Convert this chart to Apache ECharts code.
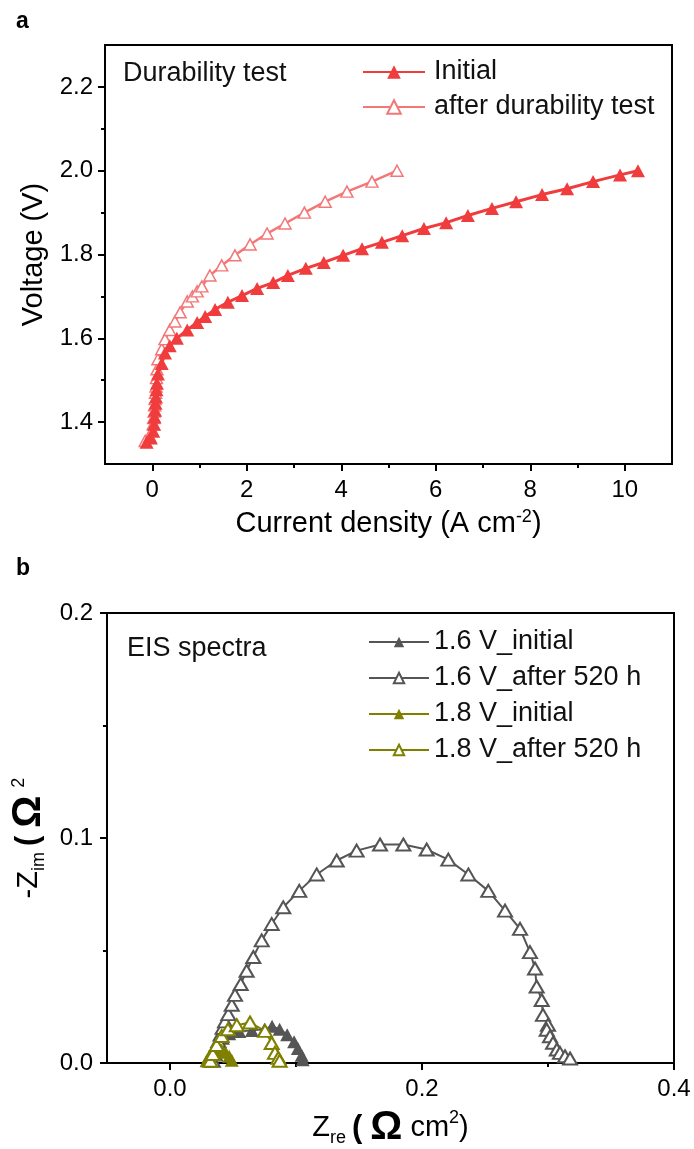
<!DOCTYPE html>
<html>
<head>
<meta charset="utf-8">
<script src="https://cdn.jsdelivr.net/npm/echarts@6/dist/echarts.min.js"></script>
<style>
html,body{margin:0;padding:0;background:#fff;}
#chart{width:694px;height:1149px;}
</style>
</head>
<body>
<div id="chart"></div>
<script>
// ---------- Panel a data ----------
const initialCurrent = [-0.12,-0.03,0.02,0.04,0.05,0.06,0.07,0.08,0.09,0.10,0.12,0.20,0.27,0.37,0.52,0.74,0.95,1.12,1.33,1.60,1.90,2.22,2.56,2.87,3.25,3.63,4.04,4.44,4.86,5.29,5.75,6.22,6.68,7.19,7.70,8.25,8.78,9.33,9.90,10.28];
const initialVoltage = [1.352,1.362,1.378,1.395,1.412,1.428,1.445,1.46,1.477,1.493,1.515,1.54,1.565,1.582,1.60,1.62,1.638,1.652,1.669,1.686,1.702,1.719,1.733,1.750,1.767,1.781,1.798,1.814,1.829,1.845,1.862,1.876,1.893,1.910,1.926,1.943,1.957,1.974,1.990,2.000];
const afterCurrent = [-0.15,-0.05,0.00,0.02,0.03,0.04,0.05,0.06,0.07,0.08,0.09,0.10,0.12,0.20,0.27,0.37,0.48,0.59,0.74,0.85,0.95,1.05,1.22,1.47,1.75,2.07,2.43,2.81,3.22,3.66,4.12,4.65,5.18];
const afterVoltage = [1.355,1.365,1.38,1.395,1.41,1.425,1.44,1.455,1.47,1.485,1.505,1.526,1.55,1.574,1.598,1.62,1.64,1.662,1.688,1.70,1.712,1.724,1.75,1.774,1.798,1.824,1.85,1.874,1.90,1.926,1.95,1.974,2.00];
const aXTicks = [0,2,4,6,8,10];
const aXMinor = [1,3,5,7,9];
const aYTicks = [1.4,1.6,1.8,2.0,2.2];
const aYMinor = [1.5,1.7,1.9,2.1];
const aSeriesNames = ['Initial','after durability test'];

// ---------- Panel b data ----------
const v16InitRe = [0.033,0.035,0.038,0.042,0.047,0.055,0.065,0.075,0.081,0.087,0.093,0.0985,0.1015,0.1045,0.1053];
const v16InitIm = [0.001,0.004,0.008,0.011,0.013,0.014,0.0145,0.015,0.0163,0.015,0.0126,0.0095,0.0065,0.0035,0.0015];
const v16AfterRe = [0.034,0.0357,0.037,0.0384,0.0402,0.0418,0.0437,0.0463,0.049,0.0516,0.0561,0.0608,0.0661,0.0728,0.0807,0.0899,0.1026,0.1164,0.1323,0.1481,0.1667,0.1852,0.2037,0.2209,0.2368,0.2526,0.2659,0.2778,0.2857,0.2897,0.291,0.295,0.296,0.300,0.299,0.3016,0.304,0.307,0.3095,0.3135,0.3175];
const v16AfterIm = [0.001,0.0038,0.0067,0.0097,0.0126,0.0156,0.0185,0.0217,0.0259,0.0303,0.0351,0.041,0.0471,0.0545,0.0618,0.0692,0.0765,0.0838,0.090,0.0944,0.0971,0.0971,0.0949,0.0904,0.0838,0.0765,0.0677,0.0596,0.0493,0.042,0.034,0.028,0.0214,0.017,0.0148,0.0119,0.009,0.006,0.0045,0.003,0.002];
const v18InitRe = [0.029,0.031,0.033,0.035,0.038,0.041,0.044,0.047,0.049];
const v18InitIm = [0.001,0.003,0.0045,0.0055,0.006,0.0058,0.0048,0.003,0.0012];
const v18AfterRe = [0.032,0.034,0.037,0.041,0.046,0.053,0.0635,0.0754,0.0807,0.0833,0.086,0.087];
const v18AfterIm = [0.001,0.004,0.008,0.012,0.015,0.0168,0.018,0.0143,0.0089,0.0045,0.0023,0.001];
const bXTicks = [0,0.2,0.4];
const bXMinor = [0.1,0.3];
const bYTicks = [0,0.1,0.2];
const bYMinor = [0.05,0.15];
const bSeriesNames = ['1.6 V_initial','1.6 V_after 520 h','1.8 V_initial','1.8 V_after 520 h'];

const zip = (a, b) => a.map((v, i) => [v, b[i]]);
const FONT = '"Liberation Sans", Arial, sans-serif';
const RED = '#f03c3c';
const PINK = '#f47777';
const GREY = '#555555';
const OLIVE = '#7f7f00';

function fmt(v, d) { return v.toFixed(d); }

function mainAxis(opts) {
  return Object.assign({
    type: 'value',
    axisLine: { show: true, onZero: false, lineStyle: { color: '#000', width: 2 } },
    splitLine: { show: false },
    nameLocation: 'middle'
  }, opts);
}
function minorAxis(opts) {
  return Object.assign({
    type: 'value',
    axisLine: { show: false, onZero: false },
    splitLine: { show: false },
    axisLabel: { show: false }
  }, opts);
}
const tick = (vals, len) => ({ show: true, length: len, customValues: vals, lineStyle: { color: '#000', width: 2 } });
const label = (vals, d, margin) => ({ color: '#000', fontSize: 24, fontFamily: FONT, margin: margin, customValues: vals, formatter: v => fmt(v, d) });
const omRich = {
  sub: { fontSize: 18, fontFamily: FONT, color: '#000', verticalAlign: 'bottom', lineHeight: 18 },
  sup: { fontSize: 18, fontFamily: FONT, color: '#000', verticalAlign: 'top', lineHeight: 18 },
  par: { fontSize: 31, fontWeight: 'bold', fontFamily: FONT, color: '#000', padding: [0, 4, 0, 6] },
  om: { fontSize: 40, fontWeight: 'bold', fontFamily: FONT, color: '#000', padding: [0, 8, 0, 4] }
};

const chart = echarts.init(document.getElementById('chart'), null, { renderer: 'canvas' });

const option = {
  backgroundColor: '#fff',
  animation: false,
  grid: [
    { left: 105, top: 45, width: 567, height: 419, show: true, borderColor: '#000', borderWidth: 2, backgroundColor: 'transparent' },
    { left: 107, top: 613, width: 567, height: 454, show: true, borderColor: '#000', borderWidth: 2, backgroundColor: 'transparent' }
  ],
  xAxis: [
    mainAxis({ gridIndex: 0, position: 'bottom', min: -1, max: 11,
      axisTick: tick(aXTicks, 7), axisLabel: label(aXTicks, 0, 14),
      name: 'Current density (A cm{sup|-2})', nameGap: 44,
      nameTextStyle: { color: '#000', fontSize: 29, fontFamily: FONT, lineHeight: 32,
        rich: { sup: { fontSize: 18, fontFamily: FONT, color: '#000', verticalAlign: 'top', lineHeight: 18 } } } }),
    minorAxis({ gridIndex: 0, position: 'bottom', min: -1, max: 11, axisTick: tick(aXMinor, 4) }),
    mainAxis({ gridIndex: 1, position: 'bottom', min: -0.05, max: 0.4,
      axisTick: tick(bXTicks, 7), axisLabel: label(bXTicks, 1, 14),
      name: 'Z{sub|re}{par|(}{om|Ω}cm{sup|2})', nameGap: 46,
      nameTextStyle: { color: '#000', fontSize: 29, fontFamily: FONT, lineHeight: 38, rich: omRich } }),
    minorAxis({ gridIndex: 1, position: 'bottom', min: -0.05, max: 0.4, axisTick: tick(bXMinor, 4) })
  ],
  yAxis: [
    mainAxis({ gridIndex: 0, position: 'left', min: 1.3, max: 2.3,
      axisTick: tick(aYTicks, 7), axisLabel: label(aYTicks, 1, 12),
      name: 'Voltage (V)', nameGap: 56,
      nameTextStyle: { color: '#000', fontSize: 29, fontFamily: FONT } }),
    minorAxis({ gridIndex: 0, position: 'left', min: 1.3, max: 2.3, axisTick: tick(aYMinor, 4) }),
    mainAxis({ gridIndex: 1, position: 'left', min: 0, max: 0.2,
      axisTick: tick(bYTicks, 7), axisLabel: label(bYTicks, 1, 14),
      name: '-Z{sub|im}{par|(}{om|Ω}{sup|2}', nameGap: 52,
      nameTextStyle: { color: '#000', fontSize: 29, fontFamily: FONT, lineHeight: 38, rich: omRich } }),
    minorAxis({ gridIndex: 1, position: 'left', min: 0, max: 0.2, axisTick: tick(bYMinor, 4) })
  ],
  legend: [
    { left: 362, top: 57, orient: 'vertical', padding: 0, itemGap: 5, itemWidth: 62, itemHeight: 17,
      data: aSeriesNames, textStyle: { color: '#111', fontSize: 27, fontFamily: FONT, lineHeight: 30, padding: [0, 0, 0, 4] } },
    { left: 368, top: 627, orient: 'vertical', padding: 0, itemGap: 6, itemWidth: 60, itemHeight: 13,
      data: bSeriesNames, textStyle: { color: '#111', fontSize: 27, fontFamily: FONT, lineHeight: 30 } }
  ],
  graphic: [
    { type: 'text', left: 16, top: 10, style: { text: 'a', fill: '#000', font: 'bold 23px "Liberation Sans", Arial' } },
    { type: 'text', left: 16, top: 557, style: { text: 'b', fill: '#000', font: 'bold 23px "Liberation Sans", Arial' } },
    { type: 'text', left: 123, top: 60, style: { text: 'Durability test', fill: '#111', font: '27px "Liberation Sans", Arial' } },
    { type: 'text', left: 127, top: 635, style: { text: 'EIS spectra', fill: '#111', font: '27px "Liberation Sans", Arial' } }
  ],
  series: [
    { name: aSeriesNames[0], type: 'line', xAxisIndex: 0, yAxisIndex: 0, data: zip(initialCurrent, initialVoltage),
      symbol: 'triangle', symbolSize: [14, 13], lineStyle: { color: RED, width: 3 },
      itemStyle: { color: RED, borderColor: RED, borderWidth: 0 }, z: 3 },
    { name: aSeriesNames[1], type: 'line', xAxisIndex: 0, yAxisIndex: 0, data: zip(afterCurrent, afterVoltage),
      symbol: 'triangle', symbolSize: [12, 11], lineStyle: { color: PINK, width: 2.5 },
      itemStyle: { color: '#fff', borderColor: PINK, borderWidth: 1.5 }, z: 2 },
    { name: bSeriesNames[0], type: 'line', xAxisIndex: 2, yAxisIndex: 2, data: zip(v16InitRe, v16InitIm),
      symbol: 'triangle', symbolSize: [14, 13], lineStyle: { color: GREY, width: 2 },
      itemStyle: { color: GREY, borderColor: GREY, borderWidth: 0 } },
    { name: bSeriesNames[1], type: 'line', xAxisIndex: 2, yAxisIndex: 2, data: zip(v16AfterRe, v16AfterIm),
      symbol: 'triangle', symbolSize: [14, 12], lineStyle: { color: GREY, width: 2 },
      itemStyle: { color: '#fff', borderColor: GREY, borderWidth: 2 } },
    { name: bSeriesNames[2], type: 'line', xAxisIndex: 2, yAxisIndex: 2, data: zip(v18InitRe, v18InitIm),
      symbol: 'triangle', symbolSize: [14, 13], lineStyle: { color: OLIVE, width: 2 },
      itemStyle: { color: OLIVE, borderColor: OLIVE, borderWidth: 0 } },
    { name: bSeriesNames[3], type: 'line', xAxisIndex: 2, yAxisIndex: 2, data: zip(v18AfterRe, v18AfterIm),
      symbol: 'triangle', symbolSize: [14, 12], lineStyle: { color: OLIVE, width: 2 },
      itemStyle: { color: '#fff', borderColor: OLIVE, borderWidth: 2 } }
  ]
};
chart.setOption(option);
</script>
</body>
</html>
